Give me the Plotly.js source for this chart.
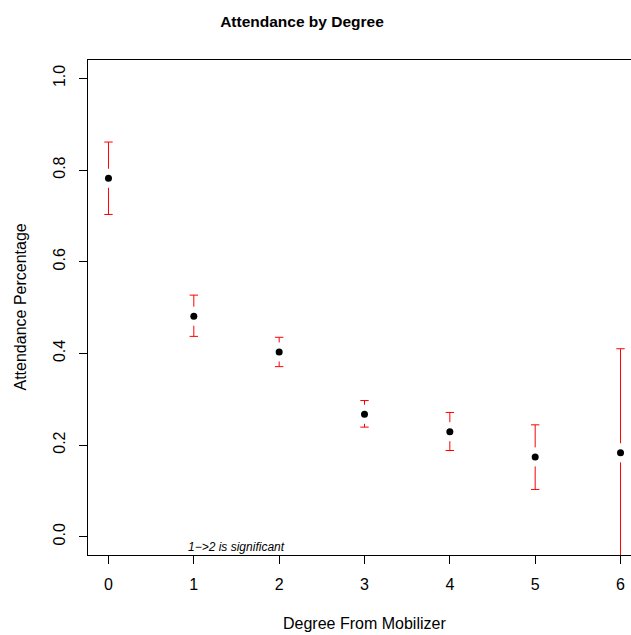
<!DOCTYPE html>
<html>
<head>
<meta charset="utf-8">
<script src="https://cdn.plot.ly/plotly-3.0.1.min.js"></script>
<style>
  html, body { margin: 0; padding: 0; overflow: hidden; background: #fff; }
  #chart { width: 642px; height: 635px; }
</style>
</head>
<body>
<div id="chart"></div>
<script>
// Data
const degrees = [0, 1, 2, 3, 4, 5, 6];
const attendance = [0.782, 0.481, 0.403, 0.267, 0.229, 0.174, 0.183];
const upper = [0.861, 0.527, 0.435, 0.297, 0.271, 0.244, 0.410];
const lower = [0.703, 0.437, 0.371, 0.239, 0.188, 0.103, -0.044];
const xTicks = [0, 1, 2, 3, 4, 5, 6];
const yTicks = [0.0, 0.2, 0.4, 0.6, 0.8, 1.0];
const yTickLabels = ["0.0", "0.2", "0.4", "0.6", "0.8", "1.0"];
const note = "1\u2212>2 is significant";

const FONT = "Liberation Sans, Arial, Helvetica, sans-serif";
const Y_RANGE = [-0.04, 1.04];
const PLOT_H = 635 - 60 - 80;
// gap (in px) left between the point and its interval line, as plotCI does
const GAP = 9.5 * (Y_RANGE[1] - Y_RANGE[0]) / PLOT_H;

// interval line segments with a gap around each point
const segX = [], segY = [];
degrees.forEach((d, i) => {
  if (upper[i] > attendance[i] + GAP) {
    segX.push(d, d, null); segY.push(upper[i], attendance[i] + GAP, null);
  }
  if (lower[i] < attendance[i] - GAP) {
    segX.push(d, d, null); segY.push(attendance[i] - GAP, lower[i], null);
  }
});

const traces = [
  {
    type: "scatter", mode: "lines",
    x: segX, y: segY, connectgaps: false,
    line: { color: "#ff0000", width: 1 },
    hoverinfo: "skip", showlegend: false
  },
  {
    type: "scatter", mode: "markers",
    x: degrees.concat(degrees), y: upper.concat(lower),
    marker: { symbol: "line-ew", size: 6, color: "#ff0000", line: { color: "#ff0000", width: 1 } },
    hoverinfo: "skip", showlegend: false
  },
  {
    type: "scatter", mode: "markers",
    x: degrees, y: attendance,
    marker: { color: "#000000", size: 7 },
    showlegend: false
  }
];

const axisCommon = {
  showgrid: false, zeroline: false,
  showline: true, mirror: true, linecolor: "#000", linewidth: 1,
  ticks: "outside", ticklen: 8, tickwidth: 1, tickcolor: "#000",
  tickfont: { family: FONT, size: 16, color: "#000" },
  fixedrange: true
};

const layout = {
  width: 642, height: 635,
  margin: { l: 88, r: 1, t: 60, b: 80 },
  paper_bgcolor: "#fff", plot_bgcolor: "#fff",
  title: {
    text: "<b>Attendance by Degree</b>",
    font: { family: FONT, size: 15.5, color: "#000" },
    xref: "container", x: 302 / 642, xanchor: "center",
    yref: "container", y: 1 - 21.5 / 635, yanchor: "middle"
  },
  xaxis: Object.assign({}, axisCommon, {
    range: [-0.24, 6.24],
    tickvals: xTicks, ticktext: xTicks.map(String),
    ticklabelstandoff: 7
  }),
  yaxis: Object.assign({}, axisCommon, {
    range: Y_RANGE,
    tickvals: yTicks, ticktext: yTickLabels,
    tickangle: -90,
    ticklabelstandoff: 8
  }),
  annotations: [
    {
      text: "Degree From Mobilizer", showarrow: false,
      xref: "paper", x: 0.5, xanchor: "center",
      yref: "paper", y: 0, yanchor: "middle", yshift: -68,
      font: { family: FONT, size: 16, color: "#000" }
    },
    {
      text: "Attendance Percentage", showarrow: false, textangle: -90,
      xref: "paper", x: 0, xanchor: "center", xshift: -68,
      yref: "paper", y: 0.5, yanchor: "middle",
      font: { family: FONT, size: 16, color: "#000" }
    },
    {
      text: "<i>" + note + "</i>", showarrow: false,
      xref: "x", x: 1.5, xanchor: "center",
      yref: "y", y: -0.022, yanchor: "middle",
      font: { family: FONT, size: 12, color: "#000" }
    }
  ],
  showlegend: false
};

Plotly.newPlot("chart", traces, layout, { displayModeBar: false, staticPlot: true });
</script>
</body>
</html>
